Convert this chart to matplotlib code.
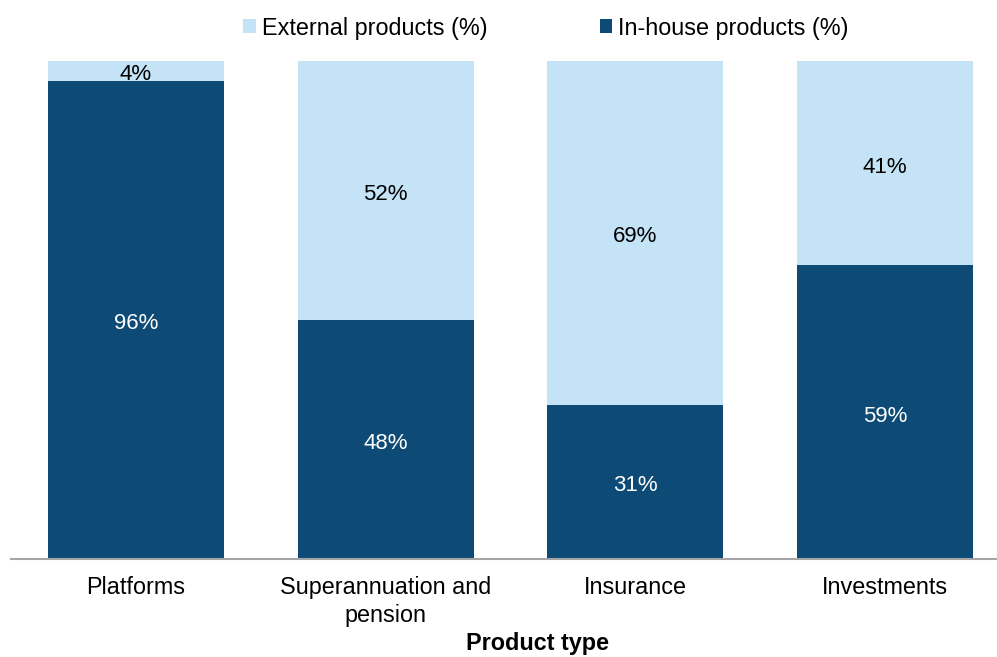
import matplotlib.pyplot as plt
import numpy as np

plt.rcParams['font.family'] = ['Liberation Sans', 'DejaVu Sans']

categories = ['Platforms', 'Superannuation and\npension', 'Insurance', 'Investments']
in_house = [96, 48, 31, 59]
external = [4, 52, 69, 41]

dark = '#0D4A75'
light = '#C5E3F7'

fig = plt.figure(figsize=(9.97, 6.57), dpi=100)
ax = fig.add_axes([11 / 997, 98 / 657, 1 - 11 / 997, 498 / 657])

x = np.arange(len(categories))
w = 0.705
b1 = ax.bar(x, in_house, w, color=dark, label='In-house products (%)')
b2 = ax.bar(x, external, w, bottom=in_house, color=light, label='External products (%)')

# segment labels, nudged a few pixels below the segment middle
for i in range(len(categories)):
    ax.annotate(f'{in_house[i]}%', (x[i], in_house[i] / 2), xytext=(0, -4),
                textcoords='offset pixels', ha='center', va='center',
                color='white', fontsize=16)
    ax.annotate(f'{external[i]}%', (x[i], in_house[i] + external[i] / 2), xytext=(0, -4),
                textcoords='offset pixels', ha='center', va='center',
                color='black', fontsize=16)

ax.set_xlim(-0.5, 3.5 - 13 / 249.5)
ax.set_ylim(0, 100)
ax.set_yticks([])
ax.set_xticks(x)
ax.set_xticklabels(categories, fontsize=16.8, linespacing=1.3)
ax.tick_params(axis='x', length=0, pad=12)
for s in ['top', 'right', 'left']:
    ax.spines[s].set_visible(False)
ax.spines['bottom'].set_color('#A6A6A6')
ax.spines['bottom'].set_linewidth(1.5)
fig.text(538 / 997, 1 - 650 / 657, 'Product type', ha='center', va='baseline',
         fontsize=16.8, fontweight='bold')

fig.legend([b2, b1], ['External products (%)', 'In-house products (%)'],
           loc='center', bbox_to_anchor=(546 / 997, 1 - 28 / 657), ncol=2, frameon=False,
           fontsize=16.8, handlelength=0.55, handleheight=0.55, handletextpad=0.25,
           columnspacing=4.8)

fig.savefig('out.png', dpi=100)
